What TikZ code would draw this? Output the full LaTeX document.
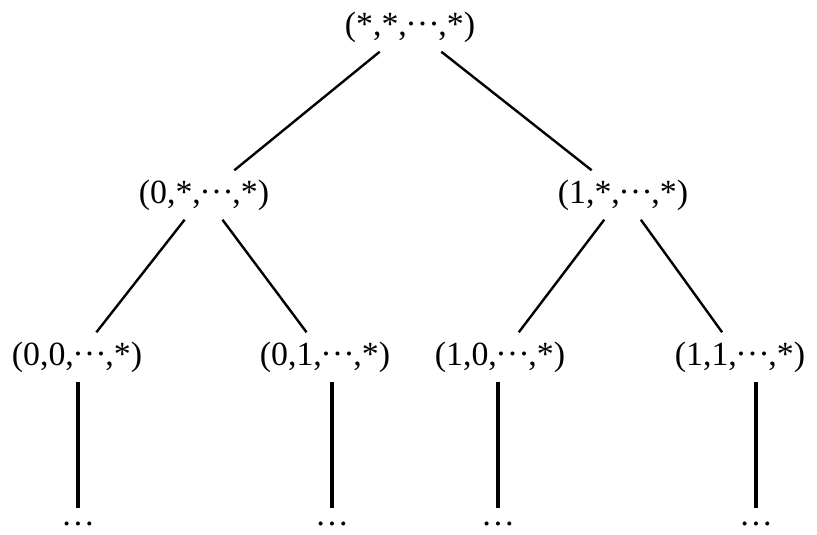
\documentclass[tikz,border=0pt]{standalone}
\usepackage{fontspec}
\setmainfont{Liberation Serif}
\usetikzlibrary{positioning}
\tikzstyle{state} = [inner xsep=2pt, inner ysep=4.5pt, font=\fontsize{17}{19}\selectfont]
\tikzstyle{more} = [inner xsep=0pt, inner ysep=7pt, font=\fontsize{17}{19}\selectfont]
\tikzstyle{branch} = [line width=1.2pt]
\tikzstyle{stem} = [line width=2pt]
\newcommand{\cds}{\raisebox{0.28em}{.\kern0.09em.\kern0.09em.}}

\begin{document}
\begin{tikzpicture}[x=0.5bp, y=-0.5bp]
        \useasboundingbox (0,0) rectangle (817,535);
        % levels of the tree
        \node[state] (root) at (410,27) {(*,*,\cds,*)};
        \node[state] (s0) at (204,195) {(0,*,\cds,*)};
        \node[state] (s1) at (623,195) {(1,*,\cds,*)};
        \node[state] (s00) at (77,357) {(0,0,\cds,*)};
        \node[state] (s01) at (325,357) {(0,1,\cds,*)};
        \node[state] (s10) at (500,357) {(1,0,\cds,*)};
        \node[state] (s11) at (740,357) {(1,1,\cds,*)};
        \node[more] (d00) at (78,524) {\dots};
        \node[more] (d01) at (332,524) {\dots};
        \node[more] (d10) at (498,524) {\dots};
        \node[more] (d11) at (756,524) {\dots};
        \draw[branch] (root) -- (s0);
        \draw[branch] (root) -- (s1);
        \draw[branch] (s0) -- (s00);
        \draw[branch] (s0) -- (s01);
        \draw[branch] (s1) -- (s10);
        \draw[branch] (s1) -- (s11);
        \draw[stem] (d00 |- s00.south) -- (d00.north);
        \draw[stem] (d01 |- s01.south) -- (d01.north);
        \draw[stem] (d10 |- s10.south) -- (d10.north);
        \draw[stem] (d11 |- s11.south) -- (d11.north);
    \end{tikzpicture}
\end{document}
